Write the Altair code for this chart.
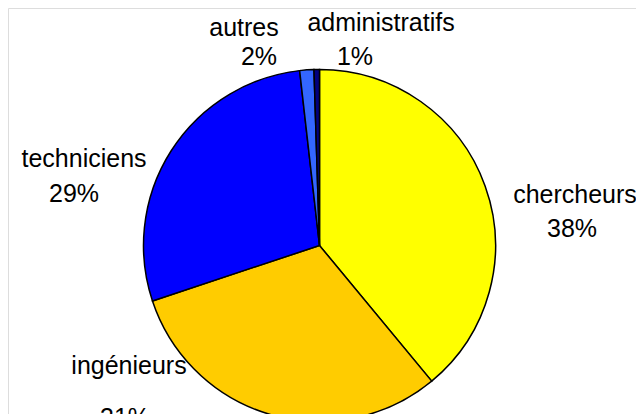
import altair as alt
import pandas as pd

# Data
categories = ["chercheurs", "ingénieurs", "techniciens", "autres", "administratifs"]
shares = [39.0, 30.9, 28.3, 1.3, 0.5]          # drawn slice sizes
pct_labels = ["38%", "31%", "29%", "2%", "1%"]  # printed labels
colors = ["#FFFF00", "#FFCC00", "#0000FF", "#3366FF", "#000080"]

# Label layout (pixel positions of each line, chart coordinates)
name_pos = {
    "chercheurs": (567, 195),
    "ingénieurs": (121, 366),
    "techniciens": (76, 159),
    "autres": (236, 28),
    "administratifs": (373, 23),
}
pct_pos = {
    "chercheurs": (564, 229),
    "ingénieurs": (117, 418),
    "techniciens": (66, 194),
    "autres": (251, 57),
    "administratifs": (347, 57),
}

W, H = 628, 406
CX, CY, R = 311.5, 237.5, 176

pie_df = pd.DataFrame({"cat": categories, "share": shares, "idx": list(range(len(categories)))})

rows = []
for c, p in zip(categories, pct_labels):
    x1, y1 = name_pos[c]
    x2, y2 = pct_pos[c]
    rows.append({"txt": c, "lx": x1, "ly": y1})
    rows.append({"txt": p, "lx": x2, "ly": y2})
lab_df = pd.DataFrame(rows)

pie = alt.Chart(pie_df).mark_arc(
    radius=R, stroke="black", strokeWidth=1.5
).encode(
    theta=alt.Theta("share:Q", stack=True),
    order=alt.Order("idx:Q"),
    color=alt.Color("cat:N", scale=alt.Scale(domain=categories, range=colors), legend=None),
    x=alt.value(CX),
    y=alt.value(CY),
)

labels = alt.Chart(lab_df).mark_text(
    font="Liberation Sans", fontSize=25, color="black", align="center", baseline="alphabetic"
).encode(
    x=alt.X("lx:Q", scale=alt.Scale(domain=[0, W], range=[0, W]), axis=None),
    y=alt.Y("ly:Q", scale=alt.Scale(domain=[0, H], range=[0, H]), axis=None),
    text="txt:N",
)

chart = alt.layer(pie, labels).properties(
    width=W, height=H, autosize=alt.AutoSizeParams(type="none"), padding=0
).configure_view(strokeWidth=0, stroke="transparent").configure(background="white")

chart.save("out.html", embed_options={"renderer": "svg", "actions": False})
